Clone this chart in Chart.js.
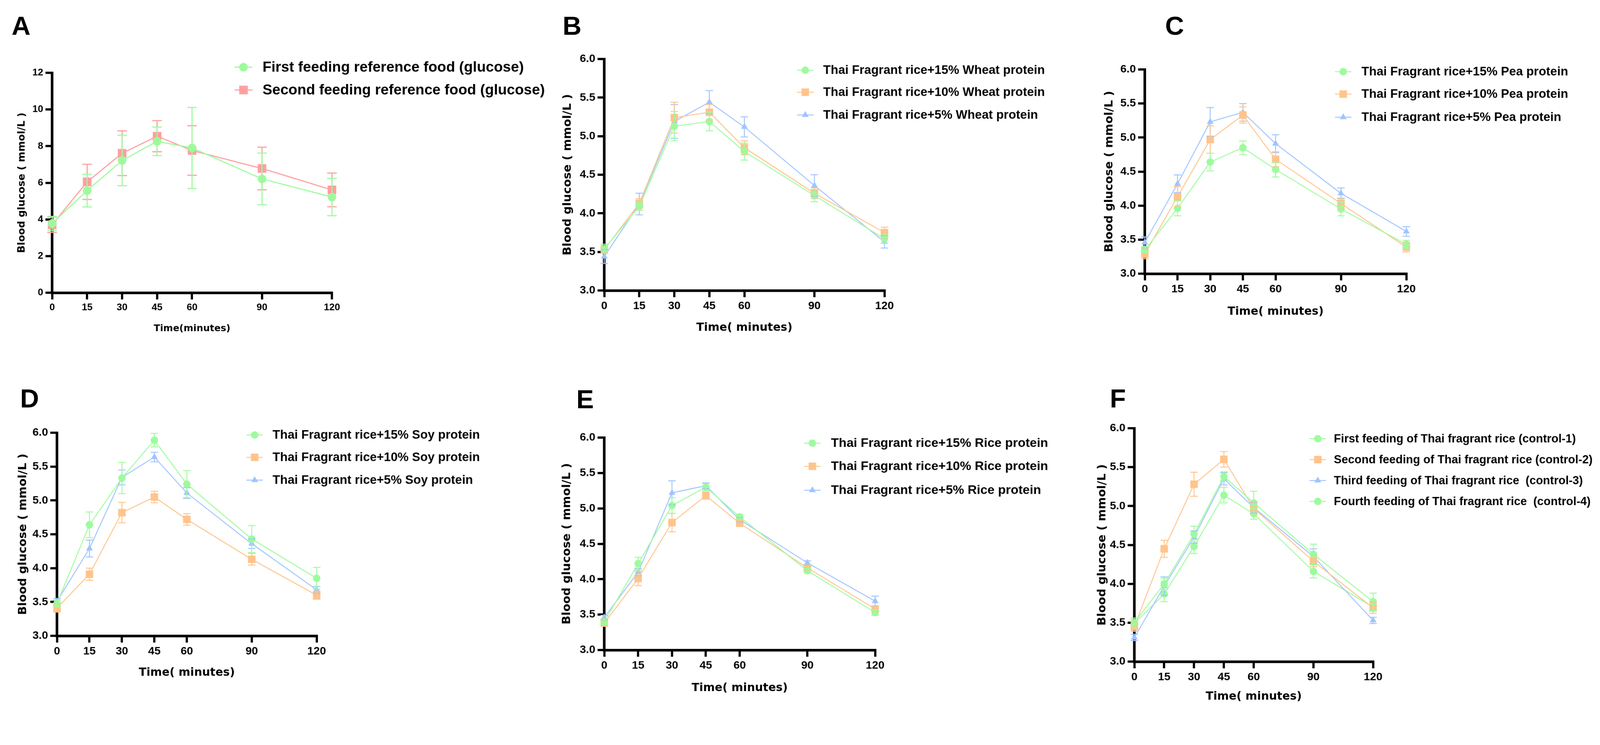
<!DOCTYPE html>
<html>
<head>
<meta charset="utf-8">
<script src="https://cdn.jsdelivr.net/npm/chart.js@4.4.1/dist/chart.umd.min.js"></script>
<style>
html,body{margin:0;padding:0;background:#fff;overflow:hidden;}
#root{position:absolute;left:0;top:0;width:4286px;height:1907px;transform-origin:0 0;background:#fff;}
.panel{position:absolute;}
.letter{position:absolute;font-family:"Liberation Sans",Arial,sans-serif;font-weight:bold;font-size:70px;line-height:1;color:#000;}
</style>
</head>
<body>
<div id="root">
<div class="letter" style="left:31px;top:34px">A</div>
<div class="letter" style="left:1507px;top:34px">B</div>
<div class="letter" style="left:3121px;top:34px">C</div>
<div class="letter" style="left:54px;top:1032px">D</div>
<div class="letter" style="left:1544px;top:1034px">E</div>
<div class="letter" style="left:2973px;top:1032px">F</div>
</div>
<script>
// ---------------- data ----------------
const timePoints = [0, 15, 30, 45, 60, 90, 120];
const xTickValues = [0, 15, 30, 45, 60, 90, 120];
const yTickValuesA = [0, 2, 4, 6, 8, 10, 12];
const yTickValuesBF = [3.0, 3.5, 4.0, 4.5, 5.0, 5.5, 6.0];

// Panel A
const aLabels = ['First feeding reference food (glucose)', 'Second feeding reference food (glucose)'];
const aFirstMean = [3.78, 5.57, 7.22, 8.26, 7.90, 6.21, 5.22];
const aFirstErr  = [0.38, 0.89, 1.38, 0.78, 2.21, 1.41, 1.02];
const aSecondMean = [3.71, 6.05, 7.61, 8.54, 7.76, 6.78, 5.61];
const aSecondErr  = [0.42, 0.96, 1.22, 0.85, 1.35, 1.16, 0.92];

// Panel B (wheat protein)
const bLabels = ['Thai Fragrant rice+15% Wheat protein', 'Thai Fragrant rice+10% Wheat protein', 'Thai Fragrant rice+5% Wheat protein'];
const b15Mean = [3.54, 4.09, 5.13, 5.19, 4.80, 4.23, 3.67];
const b15Err  = [0.06, 0.05, 0.19, 0.12, 0.11, 0.08, 0.06];
const b10Mean = [3.53, 4.13, 5.24, 5.31, 4.85, 4.26, 3.75];
const b10Err  = [0.05, 0.06, 0.20, 0.10, 0.09, 0.07, 0.07];
const b5Mean  = [3.44, 4.12, 5.19, 5.44, 5.12, 4.36, 3.63];
const b5Err   = [0.09, 0.14, 0.22, 0.15, 0.13, 0.14, 0.08];

// Panel C (pea protein)
const cLabels = ['Thai Fragrant rice+15% Pea protein', 'Thai Fragrant rice+10% Pea protein', 'Thai Fragrant rice+5% Pea protein'];
const c15Mean = [3.35, 3.96, 4.64, 4.85, 4.53, 3.95, 3.43];
const c15Err  = [0.05, 0.11, 0.13, 0.10, 0.11, 0.10, 0.06];
const c10Mean = [3.29, 4.13, 4.97, 5.33, 4.68, 4.03, 3.39];
const c10Err  = [0.07, 0.15, 0.20, 0.12, 0.11, 0.08, 0.07];
const c5Mean  = [3.46, 4.32, 5.23, 5.37, 4.91, 4.18, 3.62];
const c5Err   = [0.08, 0.13, 0.21, 0.13, 0.13, 0.08, 0.07];

// Panel D (soy protein)
const dLabels = ['Thai Fragrant rice+15% Soy protein', 'Thai Fragrant rice+10% Soy protein', 'Thai Fragrant rice+5% Soy protein'];
const d15Mean = [3.48, 4.64, 5.33, 5.89, 5.24, 4.43, 3.85];
const d15Err  = [0.05, 0.19, 0.23, 0.10, 0.20, 0.20, 0.16];
const d10Mean = [3.41, 3.91, 4.82, 5.05, 4.72, 4.13, 3.60];
const d10Err  = [0.06, 0.09, 0.15, 0.085, 0.085, 0.085, 0.06];
const d5Mean  = [3.51, 4.29, 5.34, 5.64, 5.11, 4.36, 3.68];
const d5Err   = [0.04, 0.125, 0.11, 0.07, 0.08, 0.07, 0.05];

// Panel E (rice protein)
const eLabels = ['Thai Fragrant rice+15% Rice protein', 'Thai Fragrant rice+10% Rice protein', 'Thai Fragrant rice+5% Rice protein'];
const e15Mean = [3.40, 4.22, 5.04, 5.30, 4.88, 4.12, 3.53];
const e15Err  = [0.04, 0.09, 0.11, 0.05, 0.03, 0.03, 0.04];
const e10Mean = [3.38, 4.01, 4.80, 5.18, 4.79, 4.16, 3.58];
const e10Err  = [0.03, 0.10, 0.13, 0.05, 0.04, 0.03, 0.04];
const e5Mean  = [3.46, 4.10, 5.22, 5.32, 4.84, 4.23, 3.69];
const e5Err   = [0.03, 0.05, 0.17, 0.04, 0.03, 0.03, 0.07];

// Panel F (controls)
const fLabels = ['First feeding of Thai fragrant rice (control-1)', 'Second feeding of Thai fragrant rice (control-2)', 'Third feeding of Thai fragrant rice  (control-3)', 'Fourth feeding of Thai fragrant rice  (control-4)'];
const f1Mean = [3.50, 4.00, 4.64, 5.38, 5.04, 4.38, 3.77];
const f1Err  = [0.06, 0.07, 0.10, 0.06, 0.15, 0.13, 0.11];
const f2Mean = [3.45, 4.45, 5.28, 5.60, 4.97, 4.29, 3.69];
const f2Err  = [0.06, 0.11, 0.155, 0.10, 0.07, 0.07, 0.07];
const f3Mean = [3.31, 3.97, 4.60, 5.35, 4.98, 4.35, 3.53];
const f3Err  = [0.04, 0.12, 0.08, 0.08, 0.07, 0.10, 0.04];
const f4Mean = [3.49, 3.87, 4.48, 5.14, 4.90, 4.16, 3.70];
const f4Err  = [0.05, 0.10, 0.09, 0.10, 0.07, 0.085, 0.05];

// ---------------- fit page to the viewport ----------------
const root = document.getElementById('root');
const fit = Math.min(1, window.innerWidth / 4286, window.innerHeight / 1907);
if (fit < 1) root.style.transform = 'scale(' + fit + ')';

// ---------------- styles ----------------
const STY = {
  green:  {color: '#9dfb9d', shape: 'circle'},
  pink:   {color: '#ff9f9f', shape: 'rect'},
  orange: {color: '#ffc48c', shape: 'rect'},
  blue:   {color: '#a0c4ff', shape: 'triangle'}
};
const LEG_FONT = '"Liberation Sans", Arial, sans-serif';
const TITLE_FONT = '"DejaVu Sans", Verdana, sans-serif';

function radiusFor(shape, base) {
  if (shape === 'rect') return base * 1.42;
  if (shape === 'triangle') return base * 1.05;
  return base;
}

function drawShape(ctx, shape, r, x, y) {
  ctx.beginPath();
  if (shape === 'circle') {
    ctx.arc(x, y, r, 0, Math.PI * 2);
  } else if (shape === 'rect') {
    const s = r * Math.SQRT1_2;
    ctx.rect(x - s, y - s, 2 * s, 2 * s);
  } else {
    const a = Math.PI / 3 * 2;
    ctx.moveTo(x, y - r);
    ctx.lineTo(x + Math.sin(a) * r, y - Math.cos(a) * r);
    ctx.lineTo(x - Math.sin(a) * r, y - Math.cos(a) * r);
    ctx.closePath();
  }
  ctx.fill();
}

const errorBarPlugin = {
  id: 'errorBars',
  afterDatasetsDraw(chart, args, opts) {
    const ctx = chart.ctx;
    const ys = chart.scales.y;
    for (let i = chart.data.datasets.length - 1; i >= 0; i--) {
      const ds = chart.data.datasets[i];
      const meta = chart.getDatasetMeta(i);
      ctx.save();
      ctx.strokeStyle = ds.borderColor;
      ctx.lineWidth = opts.width;
      meta.data.forEach((pt, j) => {
        const v = ds.data[j].y, e = ds.errors[j];
        const yt = ys.getPixelForValue(v + e), yb = ys.getPixelForValue(v - e);
        ctx.beginPath();
        ctx.moveTo(pt.x, yt); ctx.lineTo(pt.x, yb);
        ctx.moveTo(pt.x - opts.cap, yt); ctx.lineTo(pt.x + opts.cap, yt);
        ctx.moveTo(pt.x - opts.cap, yb); ctx.lineTo(pt.x + opts.cap, yb);
        ctx.stroke();
      });
      ctx.restore();
    }
  }
};

const legendPlugin = {
  id: 'sideLegend',
  afterDraw(chart, args, opts) {
    const ctx = chart.ctx;
    chart.data.datasets.forEach((ds, i) => {
      const y = opts.rows[i];
      const mx = opts.markerX;
      ctx.save();
      ctx.strokeStyle = ds.borderColor;
      ctx.lineWidth = opts.lineWidth;
      ctx.beginPath();
      ctx.moveTo(mx - opts.half, y); ctx.lineTo(mx + opts.half, y);
      ctx.stroke();
      ctx.fillStyle = ds.pointBackgroundColor;
      drawShape(ctx, ds.pointStyle, ds.pointRadius, mx, y);
      ctx.fillStyle = '#000';
      ctx.font = 'bold ' + opts.fontSize + 'px ' + LEG_FONT;
      ctx.textBaseline = 'middle';
      ctx.textAlign = 'left';
      ctx.fillText(ds.label, opts.textX, y + 1);
      ctx.restore();
    });
  }
};

function makePanel(p) {
  const yLH = p.yTitleSize * 1.2, xLH = p.xTitleSize * 1.2;
  const cl = p.yTitleX - yLH / 2;
  const cb = p.xTitleY + xLH / 2;
  const ct = p.canvasTop, cr = p.canvasRight;
  const wrap = document.createElement('div');
  wrap.className = 'panel';
  wrap.style.left = cl + 'px';
  wrap.style.top = ct + 'px';
  wrap.style.width = (cr - cl) + 'px';
  wrap.style.height = (cb - ct) + 'px';
  const canvas = document.createElement('canvas');
  wrap.appendChild(canvas);
  root.appendChild(wrap);

  const datasets = p.series.map(s => ({
    label: s.label,
    data: timePoints.map((t, i) => ({x: t, y: s.mean[i]})),
    errors: s.err,
    borderColor: s.style.color,
    backgroundColor: s.style.color,
    pointBackgroundColor: s.style.color,
    pointBorderColor: s.style.color,
    pointBorderWidth: 0,
    pointStyle: s.style.shape,
    pointRadius: radiusFor(s.style.shape, p.markerR),
    borderWidth: p.lineWidth,
    tension: 0,
    fill: false,
    clip: false
  }));

  const tickFont = {family: LEG_FONT, weight: 'bold', size: p.tickSize};
  const grid = {display: true, drawOnChartArea: false, drawTicks: true, tickLength: 18, tickWidth: 6, tickColor: '#000', color: '#000', lineWidth: 6};
  const border = {display: true, color: '#000', width: 7};

  new Chart(canvas, {
    type: 'line',
    data: {datasets},
    options: {
      responsive: true,
      maintainAspectRatio: false,
      animation: false,
      events: [],
      layout: {padding: {left: 0, top: p.T - ct, right: cr - p.R, bottom: 0}},
      plugins: {
        legend: {display: false},
        tooltip: {enabled: false},
        errorBars: {width: p.lineWidth, cap: p.cap},
        sideLegend: {
          rows: p.legendRows.map(r => r - ct),
          markerX: p.legendMarkerX - cl,
          textX: p.legendTextX - cl,
          half: p.legendHalf,
          lineWidth: p.lineWidth,
          fontSize: p.legendSize
        }
      },
      scales: {
        x: {
          type: 'linear', min: 0, max: 120,
          afterBuildTicks: s => { s.ticks = xTickValues.map(v => ({value: v})); },
          afterFit: s => { s.height = cb - p.B; },
          ticks: {color: '#000', font: tickFont, padding: 6, callback: v => String(v), autoSkip: false, maxRotation: 0},
          grid, border,
          title: {display: true, text: p.xTitle, color: '#000', padding: 0,
                  font: {family: TITLE_FONT, weight: 'bold', size: p.xTitleSize}}
        },
        y: {
          type: 'linear', min: p.yTicks[0], max: p.yTicks[p.yTicks.length - 1],
          afterBuildTicks: s => { s.ticks = p.yTicks.map(v => ({value: v})); },
          afterFit: s => { s.width = p.L - cl; },
          ticks: {color: '#000', font: tickFont, padding: 6, callback: v => p.yDecimals ? v.toFixed(1) : String(v)},
          grid, border,
          title: {display: true, text: 'Blood glucose ( mmol/L )', color: '#000', padding: 0,
                  font: {family: TITLE_FONT, weight: 'bold', size: p.yTitleSize}}
        }
      }
    },
    plugins: [errorBarPlugin, legendPlugin]
  });
}

const baseBF = {yTicks: yTickValuesBF, yDecimals: true, xTitle: 'Time( minutes)', tickSize: 30,
  yTitleSize: 31, xTitleSize: 30, markerR: 10, lineWidth: 2.5, cap: 10, legendHalf: 22};

makePanel({
  yTicks: yTickValuesA, yDecimals: false, xTitle: 'Time(minutes)', tickSize: 26,
  yTitleSize: 27, xTitleSize: 25, markerR: 11.5, lineWidth: 3, cap: 13, legendHalf: 24,
  L: 139.5, R: 889, T: 195, B: 784, yTitleX: 59, xTitleY: 880, canvasTop: 140, canvasRight: 1480,
  legendRows: [180, 241], legendMarkerX: 652, legendTextX: 703, legendSize: 39,
  series: [
    {label: aLabels[0], mean: aFirstMean, err: aFirstErr, style: STY.green},
    {label: aLabels[1], mean: aSecondMean, err: aSecondErr, style: STY.pink}
  ]
});

makePanel(Object.assign({}, baseBF, {
  L: 1619, R: 2369, T: 158, B: 778, yTitleX: 1521, xTitleY: 878, canvasTop: 110, canvasRight: 2850,
  legendRows: [188, 247, 308], legendMarkerX: 2157, legendTextX: 2205, legendSize: 33,
  series: [
    {label: bLabels[0], mean: b15Mean, err: b15Err, style: STY.green},
    {label: bLabels[1], mean: b10Mean, err: b10Err, style: STY.orange},
    {label: bLabels[2], mean: b5Mean, err: b5Err, style: STY.blue}
  ]
}));

makePanel(Object.assign({}, baseBF, {
  L: 3067, R: 3767, T: 186, B: 733, yTitleX: 2972, xTitleY: 835, canvasTop: 130, canvasRight: 4270,
  legendRows: [192, 252, 314], legendMarkerX: 3598, legendTextX: 3647, legendSize: 33,
  series: [
    {label: cLabels[0], mean: c15Mean, err: c15Err, style: STY.green},
    {label: cLabels[1], mean: c10Mean, err: c10Err, style: STY.orange},
    {label: cLabels[2], mean: c5Mean, err: c5Err, style: STY.blue}
  ]
}));

makePanel(Object.assign({}, baseBF, {
  L: 153, R: 848, T: 1159, B: 1703, yTitleX: 62, xTitleY: 1802, canvasTop: 1110, canvasRight: 1330,
  legendRows: [1165, 1225, 1286], legendMarkerX: 682, legendTextX: 730, legendSize: 33,
  series: [
    {label: dLabels[0], mean: d15Mean, err: d15Err, style: STY.green},
    {label: dLabels[1], mean: d10Mean, err: d10Err, style: STY.orange},
    {label: dLabels[2], mean: d5Mean, err: d5Err, style: STY.blue}
  ]
}));

makePanel(Object.assign({}, baseBF, {
  L: 1619, R: 2344, T: 1172, B: 1741, yTitleX: 1519, xTitleY: 1843, canvasTop: 1120, canvasRight: 2860,
  legendRows: [1187, 1249, 1313], legendMarkerX: 2176, legendTextX: 2226, legendSize: 34,
  series: [
    {label: eLabels[0], mean: e15Mean, err: e15Err, style: STY.green},
    {label: eLabels[1], mean: e10Mean, err: e10Err, style: STY.orange},
    {label: eLabels[2], mean: e5Mean, err: e5Err, style: STY.blue}
  ]
}));

makePanel(Object.assign({}, baseBF, {
  L: 3039, R: 3678, T: 1147, B: 1772, yTitleX: 2953, xTitleY: 1866, canvasTop: 1100, canvasRight: 4286,
  legendRows: [1175, 1231, 1287, 1343], legendMarkerX: 3530, legendTextX: 3573, legendSize: 31,
  series: [
    {label: fLabels[0], mean: f1Mean, err: f1Err, style: STY.green},
    {label: fLabels[1], mean: f2Mean, err: f2Err, style: STY.orange},
    {label: fLabels[2], mean: f3Mean, err: f3Err, style: STY.blue},
    {label: fLabels[3], mean: f4Mean, err: f4Err, style: STY.green}
  ]
}));
</script>
</body>
</html>
